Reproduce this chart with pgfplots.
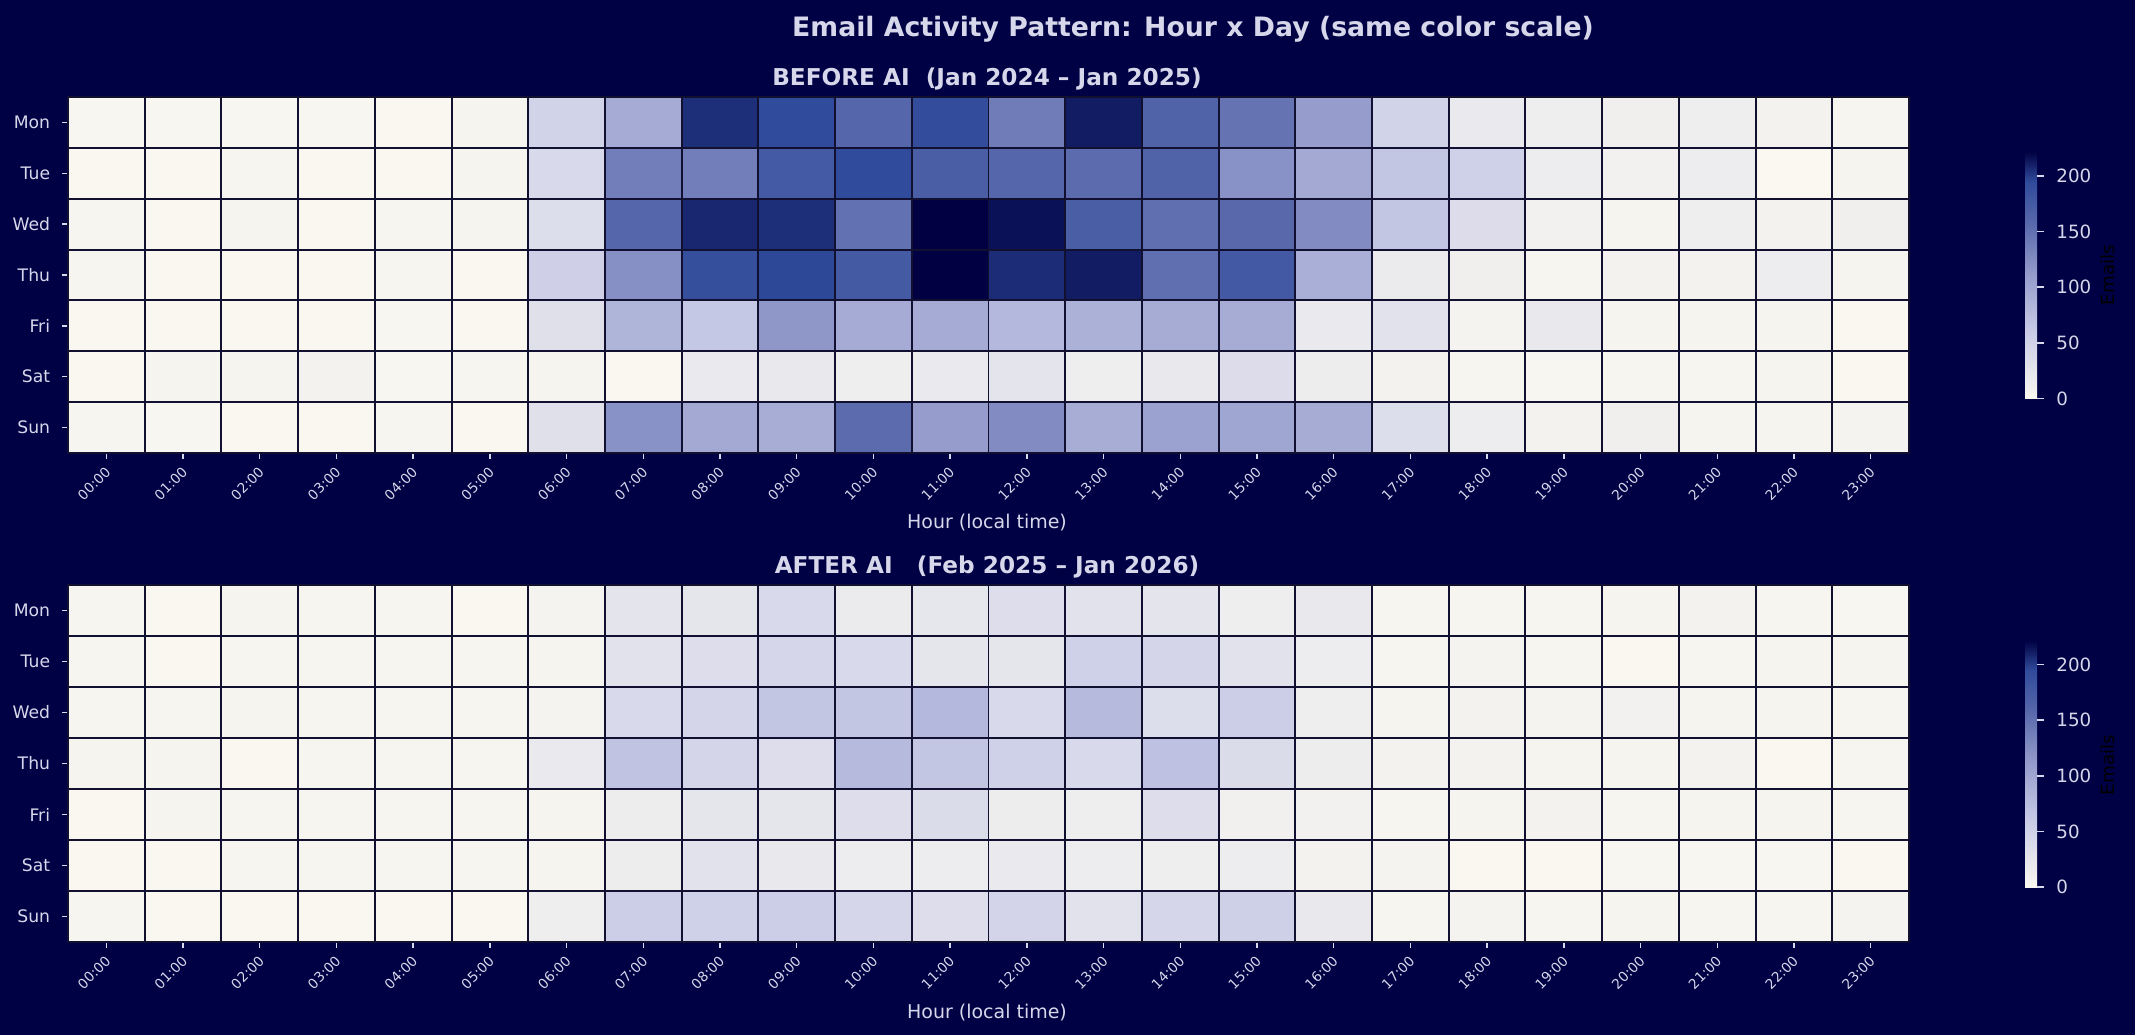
\documentclass[border=0pt]{standalone}
\usepackage{fontspec}
\setmainfont{DejaVu Sans}
\usepackage{pgfplots}
\pgfplotsset{compat=1.18}
\definecolor{bg}{RGB}{0,0,68}
\definecolor{txt}{RGB}{215,215,235}
\definecolor{gridc}{RGB}{18,16,48}
\pgfplotsset{
 colormap={emails}{rgb255(0pt)=(250,248,240) rgb255(55pt)=(205,207,232) rgb255(110pt)=(150,157,205) rgb255(160pt)=(85,102,170) rgb255(195pt)=(48,75,155) rgb255(222pt)=(0,0,66)},
 heat/.style={
  scale only axis, width=18.41cm, height=3.56cm,
  xmin=-0.5, xmax=23.5, ymin=-0.5, ymax=6.5, y dir=reverse,
  enlargelimits=false, axis on top,
  xtick={0,...,23},
  xticklabels={00:00,01:00,02:00,03:00,04:00,05:00,06:00,07:00,08:00,09:00,10:00,11:00,12:00,13:00,14:00,15:00,16:00,17:00,18:00,19:00,20:00,21:00,22:00,23:00},
  ytick={0,...,6}, yticklabels={Mon,Tue,Wed,Thu,Fri,Sat,Sun},
  minor xtick={0.5,1.5,...,22.5}, minor ytick={0.5,1.5,...,5.5},
  xminorgrids, yminorgrids,
  minor grid style={gridc, line width=0.55pt},
  minor tick length=0pt,
  xtick pos=bottom, ytick pos=left,
  tick align=outside, major tick length=0.055cm,
  major tick style={txt, line width=0.4pt},
  axis line style={gridc, line width=0.55pt},
  xticklabel style={font=\fontsize{3.9}{4.5}\selectfont, color=txt, rotate=45, anchor=east, inner sep=0pt, yshift=-0.09cm, xshift=-0.06cm},
  yticklabel style={font=\fontsize{4.9}{5.5}\selectfont, color=txt},
  colormap name=emails, point meta min=0, point meta max=222,
  colorbar,
  colorbar style={
   at={(parent axis.east)}, anchor=west, xshift=0.86cm,
   scale only axis, width=0.12cm, height=2.47cm,
   ytick={0,50,100,150,200},
   ytick pos=right, yticklabel pos=right,
   /pgf/number format/assume math mode=true,
   yticklabel style={font=\fontsize{5.2}{6}\selectfont, color=txt},
   major tick style={txt, line width=0.5pt}, major tick length=0.07cm, tick align=outside,
   axis line style={draw=none},
  },
 }
}
\begin{document}
\begin{tikzpicture}
\path[use as bounding box, fill=bg] (0,0) rectangle (21.35,10.35);
\node[txt, font=\fontsize{7.6}{9}\selectfont\bfseries] at (11.93,10.06) {Email Activity Pattern: Hour x Day (same color scale)};
\node[txt, font=\fontsize{6.6}{8}\selectfont\bfseries] at (9.87,9.56) {BEFORE AI\ \ (Jan 2024 – Jan 2025)};
\node[txt, font=\fontsize{6.6}{8}\selectfont\bfseries] at (9.87,4.68) {AFTER AI\ \ \ (Feb 2025 – Jan 2026)};
\node[txt, font=\fontsize{5.4}{6.5}\selectfont] at (9.87,5.12) {Hour (local time)};
\node[txt, font=\fontsize{5.4}{6.5}\selectfont] at (9.87,0.22) {Hour (local time)};
\node[black, rotate=90, font=\fontsize{5.2}{6}\selectfont] at (21.08,7.60) {Emails};
\node[black, rotate=90, font=\fontsize{5.2}{6}\selectfont] at (21.08,2.70) {Emails};

\begin{axis}[heat, at={(0.68cm,5.82cm)}, anchor=south west]
\addplot[matrix plot*, mesh/cols=24, point meta=explicit] coordinates {
(0,0)[3] (1,0)[3] (2,0)[3] (3,0)[3] (4,0)[1] (5,0)[5] (6,0)[50] (7,0)[95] (8,0)[205] (9,0)[195] (10,0)[160] (11,0)[192] (12,0)[140] (13,0)[212] (14,0)[165] (15,0)[148] (16,0)[110] (17,0)[50] (18,0)[20] (19,0)[14] (20,0)[12] (21,0)[14] (22,0)[8] (23,0)[4]
(0,1)[1] (1,1)[1] (2,1)[4] (3,1)[1] (4,1)[1] (5,1)[5] (6,1)[42] (7,1)[138] (8,1)[138] (9,1)[175] (10,1)[195] (11,1)[170] (12,1)[160] (13,1)[155] (14,1)[165] (15,1)[120] (16,1)[97] (17,1)[65] (18,1)[52] (19,1)[16] (20,1)[9] (21,1)[16] (22,1)[0] (23,1)[5]
(0,2)[4] (1,2)[1] (2,2)[6] (3,2)[1] (4,2)[4] (5,2)[6] (6,2)[35] (7,2)[160] (8,2)[208] (9,2)[205] (10,2)[150] (11,2)[222] (12,2)[216] (13,2)[170] (14,2)[152] (15,2)[158] (16,2)[125] (17,2)[65] (18,2)[37] (19,2)[9] (20,2)[5] (21,2)[14] (22,2)[8] (23,2)[12]
(0,3)[4] (1,3)[1] (2,3)[1] (3,3)[1] (4,3)[4] (5,3)[1] (6,3)[53] (7,3)[122] (8,3)[190] (9,3)[196] (10,3)[176] (11,3)[222] (12,3)[206] (13,3)[212] (14,3)[152] (15,3)[177] (16,3)[90] (17,3)[18] (18,3)[12] (19,3)[4] (20,3)[8] (21,3)[8] (22,3)[16] (23,3)[5]
(0,4)[1] (1,4)[1] (2,4)[1] (3,4)[1] (4,4)[2] (5,4)[1] (6,4)[32] (7,4)[85] (8,4)[63] (9,4)[115] (10,4)[95] (11,4)[95] (12,4)[80] (13,4)[88] (14,4)[93] (15,4)[93] (16,4)[20] (17,4)[30] (18,4)[7] (19,4)[22] (20,4)[5] (21,4)[5] (22,4)[5] (23,4)[1]
(0,5)[1] (1,5)[5] (2,5)[6] (3,5)[8] (4,5)[2] (5,5)[4] (6,5)[5] (7,5)[1] (8,5)[20] (9,5)[22] (10,5)[13] (11,5)[20] (12,5)[27] (13,5)[13] (14,5)[21] (15,5)[37] (16,5)[15] (17,5)[8] (18,5)[4] (19,5)[3] (20,5)[4] (21,5)[4] (22,5)[5] (23,5)[1]
(0,6)[4] (1,6)[2] (2,6)[1] (3,6)[1] (4,6)[4] (5,6)[1] (6,6)[32] (7,6)[120] (8,6)[97] (9,6)[92] (10,6)[155] (11,6)[110] (12,6)[125] (13,6)[92] (14,6)[105] (15,6)[100] (16,6)[93] (17,6)[35] (18,6)[16] (19,6)[8] (20,6)[12] (21,6)[5] (22,6)[5] (23,6)[7]
};
\end{axis}

\begin{axis}[heat, at={(0.68cm,0.93cm)}, anchor=south west, height=3.57cm]
\addplot[matrix plot*, mesh/cols=24, point meta=explicit] coordinates {
(0,0)[4] (1,0)[1] (2,0)[6] (3,0)[4] (4,0)[4] (5,0)[1] (6,0)[7] (7,0)[27] (8,0)[26] (9,0)[42] (10,0)[18] (11,0)[24] (12,0)[36] (13,0)[30] (14,0)[27] (15,0)[13] (16,0)[22] (17,0)[4] (18,0)[4] (19,0)[4] (20,0)[5] (21,0)[8] (22,0)[4] (23,0)[3]
(0,1)[4] (1,1)[1] (2,1)[4] (3,1)[4] (4,1)[4] (5,1)[4] (6,1)[6] (7,1)[29] (8,1)[36] (9,1)[45] (10,1)[42] (11,1)[26] (12,1)[26] (13,1)[52] (14,1)[47] (15,1)[30] (16,1)[16] (17,1)[4] (18,1)[7] (19,1)[4] (20,1)[1] (21,1)[4] (22,1)[5] (23,1)[5]
(0,2)[4] (1,2)[4] (2,2)[5] (3,2)[4] (4,2)[4] (5,2)[4] (6,2)[7] (7,2)[42] (8,2)[47] (9,2)[65] (10,2)[65] (11,2)[80] (12,2)[42] (13,2)[78] (14,2)[35] (15,2)[56] (16,2)[13] (17,2)[5] (18,2)[8] (19,2)[7] (20,2)[9] (21,2)[5] (22,2)[5] (23,2)[4]
(0,3)[6] (1,3)[5] (2,3)[1] (3,3)[4] (4,3)[4] (5,3)[4] (6,3)[20] (7,3)[68] (8,3)[47] (9,3)[36] (10,3)[78] (11,3)[65] (12,3)[52] (13,3)[42] (14,3)[70] (15,3)[38] (16,3)[15] (17,3)[8] (18,3)[8] (19,3)[5] (20,3)[5] (21,3)[8] (22,3)[1] (23,3)[4]
(0,4)[1] (1,4)[5] (2,4)[4] (3,4)[4] (4,4)[4] (5,4)[4] (6,4)[6] (7,4)[15] (8,4)[26] (9,4)[26] (10,4)[36] (11,4)[38] (12,4)[15] (13,4)[14] (14,4)[36] (15,4)[11] (16,4)[10] (17,4)[4] (18,4)[5] (19,4)[8] (20,4)[4] (21,4)[6] (22,4)[6] (23,4)[4]
(0,5)[1] (1,5)[1] (2,5)[4] (3,5)[4] (4,5)[4] (5,5)[4] (6,5)[6] (7,5)[15] (8,5)[30] (9,5)[22] (10,5)[16] (11,5)[16] (12,5)[20] (13,5)[16] (14,5)[13] (15,5)[16] (16,5)[8] (17,5)[7] (18,5)[1] (19,5)[1] (20,5)[3] (21,5)[3] (22,5)[3] (23,5)[1]
(0,6)[4] (1,6)[1] (2,6)[1] (3,6)[1] (4,6)[1] (5,6)[1] (6,6)[13] (7,6)[56] (8,6)[52] (9,6)[56] (10,6)[45] (11,6)[36] (12,6)[48] (13,6)[30] (14,6)[45] (15,6)[54] (16,6)[22] (17,6)[4] (18,6)[7] (19,6)[4] (20,6)[5] (21,6)[4] (22,6)[4] (23,6)[7]
};
\end{axis}
\end{tikzpicture}
\end{document}
